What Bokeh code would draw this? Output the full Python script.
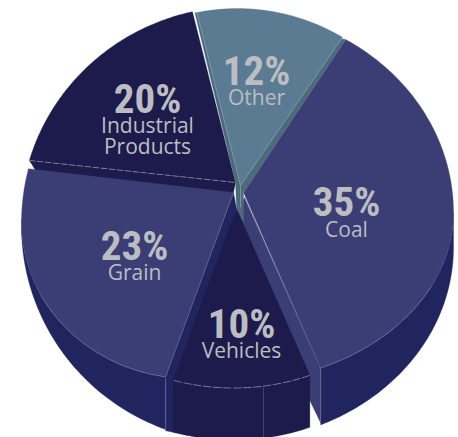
import numpy as np
from bokeh.plotting import figure
from bokeh.models import Range1d
from bokeh.core.properties import value
from bokeh.embed import file_html
from bokeh.resources import INLINE

# ---- data
categories = ["Other", "Coal", "Vehicles", "Grain", "Industrial Products"]
shares = [12, 35, 10, 23, 20]

# ---- view geometry (screen pixels)
START = -12.4
TRIM = [0, 0.2, 2.2, 5.0, 2.0, 0.0]       # perspective distortion of each boundary
START_SHIFT = {"Coal": -0.8, "Industrial Products": -0.6}
VIEW_A, VIEW_B = 212.0, 185.0
APEX = {"Other": (240, 185), "Coal": (243, 192), "Vehicles": (236, 208), "Grain": (233, 192), "Industrial Products": (235, 182)}
#  cx, cy, rx, ry_up, ry_down
TOP = {"Other": (237, 223, 210, 215, 215), "Coal": (230, 212, 223, 202, 170), "Vehicles": (233, 237.5, 190, 150, 150),
       "Grain": (190, 222, 169, 189, 156), "Industrial Products": (240, 220, 220, 214, 214)}
BOTTOM = {"Coal": (230, 247, 223, 194, 194), "Vehicles": (233, 289.5, 190, 150, 150), "Grain": (240, 226, 219, 216, 216)}

C_COAL, C_SIDE, C_DARK, C_OTHER, C_TEAL = "#3b3e75", "#20255f", "#1c1b4b", "#5a7b92", "#4b6a7a"
C_HI, C_HI2, C_TEXT = "#70739f", "#8ea5b4", "#bcbdc2"
BIG_FONT = "Roboto Condensed, Liberation Sans Narrow, DejaVu Sans Condensed, Roboto"


def ell_pt(e, phi):
    phi = np.asarray(phi, float)
    c = np.cos(phi)
    return e[0] + e[2] * np.sin(phi), e[1] - np.where(c > 0, e[3], e[4]) * c


def ray_phi(name, theta):
    """ellipse parameter where the ray at view angle theta (deg) leaves the apex"""
    ax, ay = APEX[name]
    grid = np.radians(np.linspace(theta - 60, theta + 60, 4801))
    x, y = ell_pt(TOP[name], grid)
    t = np.degrees(np.arctan2((x - ax) / VIEW_A, -(y - ay) / VIEW_B))
    d = (t - theta + 180) % 360 - 180
    return grid[np.argmin(np.abs(d))]


def low_phi(e, x):
    return np.pi - np.arcsin(np.clip((x - e[0]) / e[2], -1, 1))


edges = np.cumsum([0] + shares) * 3.6 + START + np.array(TRIM)
slices = {}
for i, name in enumerate(categories):
    a0 = edges[i] + START_SHIFT.get(name, 0)
    p0, p1 = ray_phi(name, a0), ray_phi(name, edges[i + 1])
    grid = np.linspace(p0, p1, 90)
    x, y = ell_pt(TOP[name], grid)
    slices[name] = dict(p0=p0, p1=p1, x=x, y=y)

p = figure(width=458, height=437, x_range=Range1d(0, 458), y_range=Range1d(437, 0),
           output_backend="svg", toolbar_location=None, min_border=0, outline_line_color=None,
           background_fill_color="white", border_fill_color="white")
p.axis.visible = False
p.grid.visible = False


def fill(xs, ys, color):
    p.patch(list(xs), list(ys), fill_color=color, line_color=color, line_width=0.3)


def stroke(xs, ys, color=C_HI, width=0.7, dash="solid"):
    p.line(list(xs), list(ys), line_color=color, line_width=width, line_dash=dash)


# outer rim: coal
s = slices["Coal"]
g = np.linspace(np.pi / 2, s["p1"], 60)
tx, ty = ell_pt(TOP["Coal"], g)
cc = (s["x"][-1], s["y"][-1])
pb = low_phi(BOTTOM["Coal"], cc[0])
bx, by = ell_pt(BOTTOM["Coal"], np.linspace(pb, np.pi / 2, 60))
fill(np.r_[tx, bx], np.r_[ty, by], C_SIDE)

# outer rim: grain
s = slices["Grain"]
gc = (s["x"][0], s["y"][0])
tx, ty = ell_pt(TOP["Grain"], np.linspace(s["p0"], np.radians(270), 60))
pb = low_phi(BOTTOM["Grain"], gc[0])
bx, by = ell_pt(BOTTOM["Grain"], np.linspace(np.radians(272), pb, 60))
fill(np.r_[tx, bx], np.r_[ty, by], C_SIDE)

# cut faces
ax, ay = APEX["Grain"]
va = APEX["Vehicles"]
fill([ax, gc[0], gc[0], gc[0] + 10, va[0]], [ay, gc[1], gc[1] + 54, gc[1] + 56, va[1]], C_SIDE)
stroke([gc[0], gc[0]], [gc[1], gc[1] + 54])
ax, ay = APEX["Coal"]
fill([ax + 1, cc[0], cc[0], cc[0] - 14, cc[0] - 14, va[0] - 2],
     [ay + 5, cc[1], cc[1] + 55, cc[1] + 26, cc[1] + 8, va[1] + 10], C_COAL)
stroke([cc[0], cc[0]], [cc[1], cc[1] + 55])
stroke([ax + 1, cc[0]], [ay + 5, cc[1]])

# industrial slab
s = slices["Industrial Products"]
ia = APEX[categories[4]]
ga = APEX["Grain"]
fill([s["x"][0], ia[0], ga[0], gc[0]], [s["y"][0], ia[1], ga[1], gc[1] + 1], C_DARK)

# top faces
s = slices["Coal"]
coal_first = (s["x"][0], s["y"][0])
fill(np.r_[APEX["Coal"][0], s["x"]], np.r_[APEX["Coal"][1], s["y"]], C_COAL)
n = 30
stroke(s["x"][-n:], s["y"][-n:])
s = slices["Grain"]
fill(np.r_[APEX["Grain"][0], s["x"]], np.r_[APEX["Grain"][1], s["y"]], C_COAL)
stroke(s["x"][:50], s["y"][:50])
stroke([APEX["Grain"][0], gc[0]], [APEX["Grain"][1], gc[1]])

s = slices["Industrial Products"]
fill(np.r_[ia[0], s["x"]], np.r_[ia[1], s["y"]], C_DARK)
stroke([s["x"][0], ia[0]], [s["y"][0], ia[1]], "#8b8ca8", 0.8, "6 2")

# other
s = slices["Other"]
oa = APEX["Other"]
L, R = (s["x"][0], s["y"][0]), (s["x"][-1], s["y"][-1])
fill([L[0] - 2, oa[0] - 5, oa[0] - 4, oa[0] + 3, oa[0] + 3, coal_first[0]],
     [L[1], oa[1] - 3, oa[1] + 23, oa[1] + 38, oa[1] + 7, coal_first[1]], C_TEAL)
fill(np.r_[oa[0], s["x"]], np.r_[oa[1], s["y"]], C_OTHER)
stroke([L[0], oa[0], R[0]], [L[1], oa[1], R[1]], C_HI2, 0.7)
stroke([oa[0], oa[0]], [oa[1], oa[1] + 22], C_HI2, 0.7)

# vehicles: rim then top
s = slices["Vehicles"]
vx0, vx1 = s["x"][0], s["x"][-1]
pa, pb = low_phi(BOTTOM["Vehicles"], vx0), low_phi(BOTTOM["Vehicles"], vx1)
bx, by = ell_pt(BOTTOM["Vehicles"], np.linspace(pb, pa, 60))
fill(np.r_[s["x"], bx], np.r_[s["y"], by], C_DARK)
fill(np.r_[va[0], s["x"]], np.r_[va[1], s["y"]], C_DARK)
stroke(s["x"], s["y"], "#8b8ca8", 0.8, "8 2")
lx = 263
stroke([lx, lx], [ell_pt(TOP["Vehicles"], low_phi(TOP["Vehicles"], lx))[1], 437], "#4a4a75", 0.8)

# labels
labels = [("Other", 256, 70, 96), ("Coal", 346, 201, 228), ("Vehicles", 241, 323, 349),
          ("Grain", 134, 245, 271), ("Industrial", 147, 98, 124)]
for i, (name, x, y1, y2) in enumerate(labels):
    p.text([x], [y1], text=[f"{shares[i]}%"], text_font=value(BIG_FONT), text_font_style="bold",
           text_font_size="41px", text_color=C_TEXT, text_align="center", text_baseline="middle")
    p.text([x], [y2], text=[name], text_font=value("Open Sans"), text_font_size="21px",
           text_color=C_TEXT, text_align="center", text_baseline="middle")
p.text([147], [145], text=["Products"], text_font=value("Open Sans"), text_font_size="21px",
       text_color=C_TEXT, text_align="center", text_baseline="middle")

open("out.html", "w").write(file_html(p, INLINE))
